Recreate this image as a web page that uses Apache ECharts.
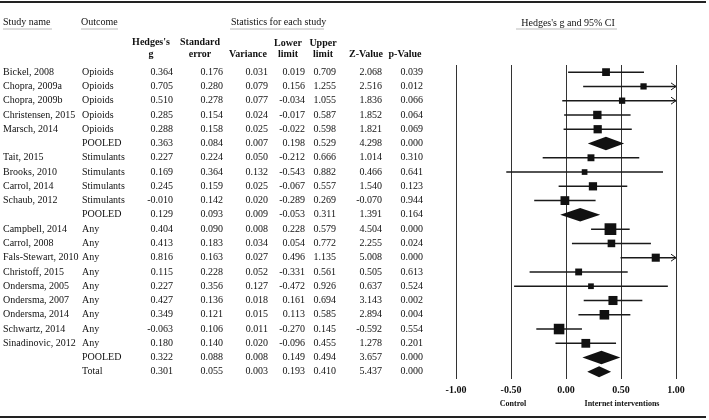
<!DOCTYPE html>
<html>
<head>
<meta charset="utf-8">
<script src="https://cdn.jsdelivr.net/npm/echarts@6/dist/echarts.min.js"></script>
<style>html,body{margin:0;padding:0;background:#fff}#c{width:709px;height:420px}</style>
</head>
<body>
<div id="c"></div>
<script>
// ---- data ----
const studies = ["Bickel, 2008","Chopra, 2009a","Chopra, 2009b","Christensen, 2015","Marsch, 2014","",
  "Tait, 2015","Brooks, 2010","Carrol, 2014","Schaub, 2012","",
  "Campbell, 2014","Carrol, 2008","Fals-Stewart, 2010","Christoff, 2015","Ondersma, 2005","Ondersma, 2007","Ondersma, 2014","Schwartz, 2014","Sinadinovic, 2012","",""];
const outcomes = ["Opioids","Opioids","Opioids","Opioids","Opioids","POOLED",
  "Stimulants","Stimulants","Stimulants","Stimulants","POOLED",
  "Any","Any","Any","Any","Any","Any","Any","Any","Any","POOLED","Total"];
const hedges = [0.364,0.705,0.510,0.285,0.288,0.363,0.227,0.169,0.245,-0.010,0.129,0.404,0.413,0.816,0.115,0.227,0.427,0.349,-0.063,0.180,0.322,0.301];
const stdErr = [0.176,0.280,0.278,0.154,0.158,0.084,0.224,0.364,0.159,0.142,0.093,0.090,0.183,0.163,0.228,0.356,0.136,0.121,0.106,0.140,0.088,0.055];
const variance = [0.031,0.079,0.077,0.024,0.025,0.007,0.050,0.132,0.025,0.020,0.009,0.008,0.034,0.027,0.052,0.127,0.018,0.015,0.011,0.020,0.008,0.003];
const lowerLimit = [0.019,0.156,-0.034,-0.017,-0.022,0.198,-0.212,-0.543,-0.067,-0.289,-0.053,0.228,0.054,0.496,-0.331,-0.472,0.161,0.113,-0.270,-0.096,0.149,0.193];
const upperLimit = [0.709,1.255,1.055,0.587,0.598,0.529,0.666,0.882,0.557,0.269,0.311,0.579,0.772,1.135,0.561,0.926,0.694,0.585,0.145,0.455,0.494,0.410];
const zValue = [2.068,2.516,1.836,1.852,1.821,4.298,1.014,0.466,1.540,-0.070,1.391,4.504,2.255,5.008,0.505,0.637,3.143,2.894,-0.592,1.278,3.657,5.437];
const pValue = [0.039,0.012,0.066,0.064,0.069,0.000,0.310,0.641,0.123,0.944,0.164,0.000,0.024,0.000,0.613,0.524,0.002,0.004,0.554,0.201,0.000,0.000];
const xTicks = [-1.0,-0.5,0.0,0.5,1.0];

// ---- layout ----
const FONT = "'Liberation Serif','Times New Roman',serif";
const FS = 10;
const GRID = {left: 456, right: 33, top: 65, bottom: 41};
const XMIN = -1, XMAX = 1;
const rows = studies.map((_, i) => String(i));
const fmt = a => a.map(v => v.toFixed(3));

// column definitions: [labels, anchor x, align]
const columns = [
  [studies, 3, 'left'],
  [outcomes, 82, 'left'],
  [fmt(hedges), 173, 'right'],
  [fmt(stdErr), 223, 'right'],
  [fmt(variance), 268, 'right'],
  [fmt(lowerLimit), 305, 'right'],
  [fmt(upperLimit), 336, 'right'],
  [fmt(zValue), 382, 'right'],
  [fmt(pValue), 423, 'right']
];

const yAxes = [{
  type: 'category', data: rows, inverse: true, gridIndex: 0,
  axisLine: {show: false}, axisTick: {show: false}, axisLabel: {show: false}, splitLine: {show: false}
}];
columns.forEach(([labels, x, align]) => {
  yAxes.push({
    type: 'category', data: labels, inverse: true, gridIndex: 0, position: 'left',
    offset: GRID.left - x,
    axisLine: {show: false}, axisTick: {show: false}, splitLine: {show: false},
    axisLabel: {show: true, interval: 0, margin: 0, align: align, color: '#111',
      fontFamily: FONT, fontSize: FS}
  });
});

const studyData = [], pooledData = [];
hedges.forEach((g, i) => {
  const item = [g, i, lowerLimit[i], upperLimit[i], variance[i], outcomes[i] === 'Total' ? 1 : 0];
  if (outcomes[i] === 'POOLED' || outcomes[i] === 'Total') pooledData.push(item); else studyData.push(item);
});

function renderStudy(params, api) {
  const g = api.value(0), i = api.value(1), lo = api.value(2), hi = api.value(3), v = api.value(4);
  const pL = api.coord([Math.max(lo, XMIN), i]);
  const pR = api.coord([Math.min(hi, XMAX), i]);
  const pG = api.coord([g, i]);
  const s = 3.7 + 0.72 * Math.sqrt(1 / v);
  const children = [
    {type: 'line', shape: {x1: pL[0], y1: pL[1], x2: pR[0], y2: pR[1]}, style: {stroke: '#1a1a1a', lineWidth: 1.5}},
    {type: 'rect', shape: {x: pG[0] - s / 2, y: pG[1] - s / 2, width: s, height: s}, style: {fill: '#111'}}
  ];
  if (hi > XMAX) {
    children.push({type: 'polyline', shape: {points: [[pR[0] - 5, pR[1] - 3.5], [pR[0], pR[1]], [pR[0] - 5, pR[1] + 3.5]]},
      style: {stroke: '#1a1a1a', lineWidth: 1, fill: null}});
  }
  return {type: 'group', children};
}
function renderPooled(params, api) {
  const g = api.value(0), i = api.value(1), lo = api.value(2), hi = api.value(3), isTotal = api.value(5);
  const pL = api.coord([lo, i]), pR = api.coord([hi, i]), pG = api.coord([g, i]);
  const h = isTotal ? 11 : 13.5;
  return {type: 'polygon', shape: {points: [[pL[0], pL[1]], [pG[0], pG[1] - h / 2], [pR[0], pR[1]], [pG[0], pG[1] + h / 2]]},
    style: {fill: '#111'}};
}

const chart = echarts.init(document.getElementById('c'), null, {renderer: 'canvas'});
const headerFont = (w) => ({fontFamily: FONT, fontSize: FS, fontWeight: w, fill: '#111'});
function txt(text, x, y, align, weight, size) {
  return {type: 'text', x: x, y: y, style: Object.assign(headerFont(weight || 'normal'),
    {text: text, textAlign: align || 'center', textVerticalAlign: 'middle', fontSize: size || FS})};
}
function hline(x1, x2, y, w, c) {
  return {type: 'line', shape: {x1: x1, y1: y, x2: x2, y2: y}, style: {stroke: c, lineWidth: w}};
}

chart.setOption({
  animation: false,
  backgroundColor: '#fff',
  grid: GRID,
  xAxis: {
    type: 'value', min: XMIN, max: XMAX, interval: 0.5,
    axisLine: {show: false}, axisTick: {show: false},
    splitLine: {show: true, showMinLine: true, showMaxLine: true, lineStyle: {color: '#333', width: 1}},
    axisLabel: {formatter: v => v.toFixed(2), margin: 6, color: '#111', fontFamily: FONT, fontSize: 10, fontWeight: 'bold'}
  },
  yAxis: yAxes,
  series: [
    {type: 'custom', name: 'studies', renderItem: renderStudy, data: studyData, encode: {x: 0, y: 1}, xAxisIndex: 0, yAxisIndex: 0, clip: false, z: 3},
    {type: 'custom', name: 'pooled', renderItem: renderPooled, data: pooledData, encode: {x: 0, y: 1}, xAxisIndex: 0, yAxisIndex: 0, clip: false, z: 3}
  ]
});

const px = v => chart.convertToPixel({xAxisIndex: 0}, v);
chart.setOption({
  graphic: [
    hline(0, 706, 2, 2, '#222'),
    hline(0, 706, 417, 2, '#222'),
    txt('Study name', 3, 22, 'left'),
    txt('Outcome', 81, 22, 'left'),
    txt('Statistics for each study', 231, 22, 'left'),
    txt("Hedges's g and 95% CI", px(0) + 2, 23, 'center'),
    hline(3, 52, 29, 1, '#bbb'),
    hline(81, 118, 29, 1, '#bbb'),
    hline(230, 324, 29, 1, '#bbb'),
    hline(516, 617, 29, 1, '#bbb'),
    txt("Hedges's", 151, 42, 'center', 'bold'),
    txt('g', 151, 54, 'center', 'bold'),
    txt('Standard', 200, 42, 'center', 'bold'),
    txt('error', 200, 54, 'center', 'bold'),
    txt('Variance', 248, 54, 'center', 'bold'),
    txt('Lower', 288, 43, 'center', 'bold'),
    txt('limit', 288, 54, 'center', 'bold'),
    txt('Upper', 323, 43, 'center', 'bold'),
    txt('limit', 323, 54, 'center', 'bold'),
    txt('Z-Value', 366, 54, 'center', 'bold'),
    txt('p-Value', 405, 54, 'center', 'bold'),
    txt('Control', px(-0.5) + 2, 404, 'center', 'bold', 8),
    txt('Internet interventions', px(0.5) + 1, 404, 'center', 'bold', 8)
  ]
});
</script>
</body>
</html>
